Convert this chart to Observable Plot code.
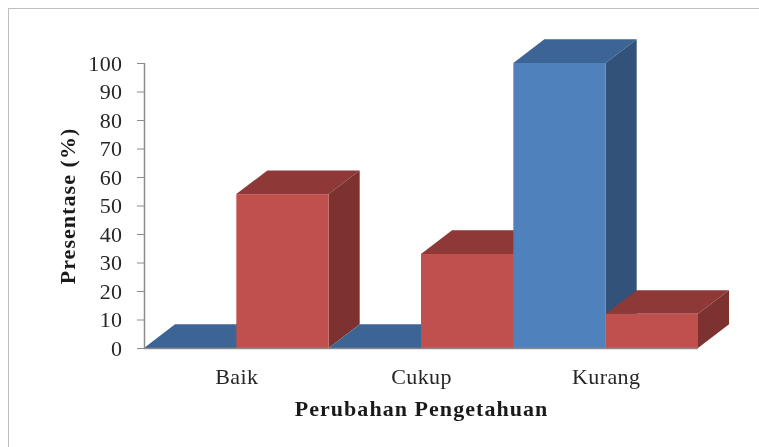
<!DOCTYPE html>
<html>
<head>
<meta charset="utf-8">
<script src="https://cdn.jsdelivr.net/npm/d3@7"></script>
<script src="https://cdn.jsdelivr.net/npm/@observablehq/plot@0.6"></script>
<style>
  html, body { margin: 0; padding: 0; background: #fff; }
  #chart { position: relative; width: 759px; height: 447px; overflow: hidden; }
  #chart::before { content: ""; position: absolute; left: 8px; top: 8px; right: -4px; bottom: -4px;
    border: 1px solid #bdbdbd; z-index: 1; pointer-events: none; }
  svg { display: block; position: relative; background: transparent !important; filter: blur(0.4px); }
  svg text { letter-spacing: 0.4px; }
  .axis-title text { letter-spacing: 1.05px; }
</style>
</head>
<body>
<div id="chart"></div>
<script>
const categories = ["Baik", "Cukup", "Kurang"];
const blueValues = [0, 0, 100];
const redValues = [54, 33, 12];
const yTicks = [0, 10, 20, 30, 40, 50, 60, 70, 80, 90, 100];
const xLabel = "Perubahan Pengetahuan";
const yLabel = "Presentase (%)";
const serif = "'Liberation Serif', serif";

// 3-D extrusion of each bar, in data units of the two scales
const depthX = 0.168, depthY = 8.3;
const barWidth = 0.5;

const palette = {
  blue: {front: "#4f81bd", top: "#3c6494", side: "#325279"},
  red:  {front: "#c0504d", top: "#8e3937", side: "#7d322f"}
};

function box(x0, v, c) {
  const x1 = x0 + barWidth;
  return [
    // top face
    Plot.areaX([{y: v, a: x0, b: x1}, {y: v + depthY, a: x0 + depthX, b: x1 + depthX}],
      {y: "y", x1: "a", x2: "b", fill: c.top}),
    // right side face
    Plot.areaY([{x: x1, a: 0, b: v}, {x: x1 + depthX, a: depthY, b: v + depthY}],
      {x: "x", y1: "a", y2: "b", fill: c.side}),
    // front face
    Plot.rect([{a: x0, b: x1, c: 0, d: v}], {x1: "a", x2: "b", y1: "c", y2: "d", fill: c.front})
  ];
}

const bars = categories.flatMap((_, i) => [
  ...box(i, blueValues[i], palette.blue),
  ...box(i + barWidth, redValues[i], palette.red)
]);

const plot = Plot.plot({
  width: 759, height: 447,
  marginLeft: 144, marginRight: 61, marginTop: 63, marginBottom: 99,
  style: {fontFamily: serif, background: "transparent", color: "#262626"},
  x: {domain: [0, 3], axis: null},
  y: {domain: [0, 100], axis: null},
  marks: [
    ...bars,
    Plot.ruleY([0], {x1: 0, x2: 3, stroke: "#8c8c8c", strokeWidth: 1.5}),
    Plot.ruleX([0], {y1: 0, y2: 100, stroke: "#8c8c8c", strokeWidth: 1.5}),
    Plot.axisY({ticks: yTicks, tickSize: 7, tickPadding: 15, stroke: "#8c8c8c", label: null,
      fontSize: 22, fill: "#262626", tickFormat: d => d}),
    Plot.axisX({ticks: categories.map((_, i) => i + 0.5), tickSize: 0, tickPadding: 20, label: null,
      fontSize: 22, fill: "#262626", tickFormat: d => categories[Math.floor(d)]}),
    Plot.text([xLabel], {frameAnchor: "bottom", dy: 67, fontSize: 22, fontWeight: "bold", fill: "#1a1a1a", className: "axis-title"}),
    Plot.text([yLabel], {frameAnchor: "left", textAnchor: "middle", dx: -77, rotate: -90, fontSize: 22, fontWeight: "bold", fill: "#1a1a1a", className: "axis-title"})
  ]
});
document.getElementById("chart").appendChild(plot);
</script>
</body>
</html>
